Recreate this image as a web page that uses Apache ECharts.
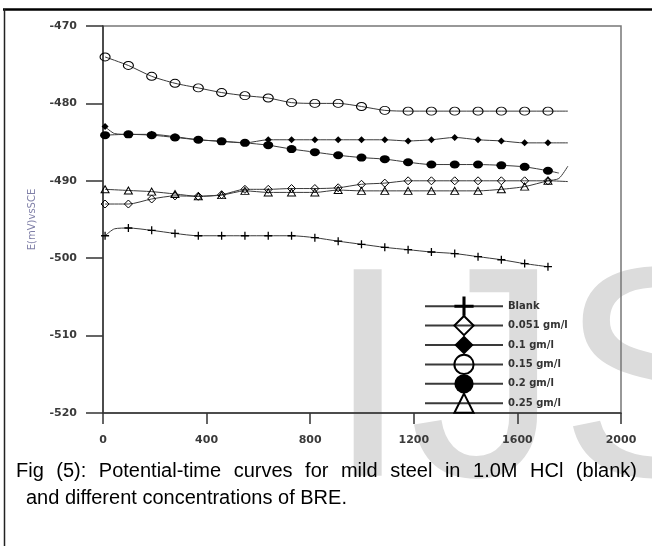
<!DOCTYPE html>
<html><head><meta charset="utf-8">
<script src="https://cdn.jsdelivr.net/npm/echarts@6/dist/echarts.min.js"></script>
<style>html,body{margin:0;padding:0;background:#fff}#c{width:652px;height:546px}</style>
</head><body><div id="c"></div><script>
// ---- data ----
const markTimes = [8,98,188,278,368,458,548,638,728,818,908,998,1088,1178,1268,1358,1448,1538,1628,1718];
const seriesNames = ['Blank','0.051 gm/l','0.1 gm/l','0.15 gm/l','0.2 gm/l','0.25 gm/l'];
const blankValues = [-497.1,-496.1,-496.4,-496.8,-497.1,-497.1,-497.1,-497.1,-497.1,-497.35,-497.8,-498.2,-498.6,-498.9,-499.2,-499.4,-499.8,-500.2,-500.7,-501.1];
const c0051Values = [-493.0,-493.0,-492.35,-491.95,-492.0,-491.8,-491.1,-491.1,-491.0,-491.0,-490.9,-490.45,-490.3,-490.0,-490.0,-490.0,-490.0,-490.0,-490.0,-490.0];
const c01Values   = [-483.0,-484.0,-484.0,-484.3,-484.7,-484.9,-485.1,-484.7,-484.7,-484.7,-484.7,-484.7,-484.7,-484.85,-484.7,-484.4,-484.7,-484.85,-485.1,-485.1];
const c015Values  = [-474.0,-475.1,-476.5,-477.4,-478.0,-478.6,-479.0,-479.3,-479.9,-480.0,-480.0,-480.4,-480.9,-481.0,-481.0,-481.0,-481.0,-481.0,-481.0,-481.0];
const c02Values   = [-484.1,-484.0,-484.1,-484.4,-484.7,-484.9,-485.1,-485.4,-485.9,-486.3,-486.7,-487.0,-487.2,-487.6,-487.9,-487.9,-487.9,-488.0,-488.2,-488.7];
const c025Values  = [-491.1,-491.25,-491.4,-491.7,-492.0,-491.85,-491.3,-491.5,-491.5,-491.5,-491.2,-491.3,-491.3,-491.3,-491.3,-491.3,-491.3,-491.1,-490.75,-490.0];
// points on the curves that carry no marker
const blankExtra = [[45,-496.2]];
const c0051Extra = [[1795,-490.1]];
const c01Extra   = [[45,-483.9],[1795,-485.1]];
const c015Extra  = [[1795,-481.0]];
const c02Extra   = [[1760,-489.0]];
const c025Extra  = [[1760,-489.7],[1795,-488.1]];
const xTicks = {min:0, max:2000, interval:400};
const yTicks = {min:-520, max:-470, interval:10};
const yAxisName = 'E(mV)vsSCE';
const captionLine1 = 'Fig (5): Potential-time curves for mild steel in 1.0M HCl (blank)';
const captionLine2 = 'and different concentrations of BRE.';
const watermark = 'IJSER';

// ---- build ----
function buildData(values, extra){
  const pts = values.map((v,i)=>({value:[markTimes[i], v]}));
  extra.forEach(p=>pts.push({value:[p[0],p[1]], symbol:'none'}));
  pts.sort((a,b)=>a.value[0]-b.value[0]);
  return pts;
}
const plusPath = 'path://M0,4.2H10V5.8H0Z M4.2,0H5.8V10H4.2Z';
const lineColor = '#3a3a3a';
const styles = [
  {symbol: plusPath, symbolSize: 8, itemStyle:{color:'#000'}},
  {symbol: 'diamond', symbolSize: [8,8], itemStyle:{color:'rgba(255,255,255,0)', borderColor:'#000', borderWidth:1}},
  {symbol: 'diamond', symbolSize: [7,7], itemStyle:{color:'#000'}},
  {symbol: 'circle', symbolSize: [10,8], itemStyle:{color:'rgba(255,255,255,0)', borderColor:'#000', borderWidth:1}},
  {symbol: 'circle', symbolSize: [10,8], itemStyle:{color:'#000'}},
  {symbol: 'triangle', symbolSize: [8,7], itemStyle:{color:'rgba(255,255,255,0)', borderColor:'#000', borderWidth:1}}
];
const allValues = [blankValues,c0051Values,c01Values,c015Values,c02Values,c025Values];
const allExtra = [blankExtra,c0051Extra,c01Extra,c015Extra,c02Extra,c025Extra];
const series = seriesNames.map((n,i)=>Object.assign({
  name:n, type:'line', data: buildData(allValues[i], allExtra[i]),
  smooth:0.25, showAllSymbol:true, z: 3,
  lineStyle:{color:lineColor, width:1},
  emphasis:{disabled:true}
}, styles[i]));

// caption, justified on line 1 (word widths measured with DOM layout)
const capFamily = '"Liberation Sans", Arial, sans-serif';
const capSize = 20;
const capFont = capSize + 'px ' + capFamily;
const probe = document.createElement('span');
probe.style.cssText = 'position:absolute;left:-9999px;top:0;white-space:pre;font-size:' + capSize + 'px;font-family:' + capFamily;
document.body.appendChild(probe);
function textWidth(t){ probe.textContent = t; return probe.getBoundingClientRect().width; }
const words = captionLine1.split(' ');
const widths = words.map(textWidth);
const totalW = widths.reduce((a,b)=>a+b,0);
const capLeft = 16, capRight = 637, cap2Left = 26;
const gap = (capRight - capLeft - totalW)/(words.length-1);
const graphics = [
  {type:'text', x:326, y:243, z:-10, silent:true, style:{text:watermark, font:'300px "Liberation Sans", Arial, sans-serif', fill:'#dcdcdc', verticalAlign:'top'}},
  {type:'line', shape:{x1:3, y1:9.5, x2:652, y2:9.5}, style:{stroke:'#000', lineWidth:2.5}},
  {type:'line', shape:{x1:4.5, y1:9, x2:4.5, y2:546}, style:{stroke:'#222', lineWidth:1.5}}
];
let cx = capLeft;
words.forEach((w,i)=>{
  graphics.push({type:'text', x:cx, y:471, style:{text:w, font:capFont, fill:'#000', verticalAlign:'middle'}});
  cx += widths[i] + gap;
});
graphics.push({type:'text', x:cap2Left, y:498, style:{text:captionLine2, font:capFont, fill:'#000', verticalAlign:'middle'}});

const axisLabelStyle = {fontFamily:'DejaVu Sans', fontWeight:'bold', fontSize:11, color:'#3a3a3a', formatter:v=>String(v)};
const chart = echarts.init(document.getElementById('c'), null, {renderer:'canvas'});
chart.setOption({
  animation:false,
  backgroundColor:'#fff',
  grid:{left:103, top:26, right:31, bottom:133, show:true, borderColor:'#777', borderWidth:1.5, backgroundColor:'transparent'},
  xAxis:{type:'value', min:xTicks.min, max:xTicks.max, interval:xTicks.interval,
    axisLine:{show:true, lineStyle:{color:'#333', width:1.5}},
    axisTick:{show:true, inside:false, length:11, lineStyle:{color:'#333', width:1.5}},
    axisLabel:Object.assign({margin:22}, axisLabelStyle),
    splitLine:{show:false}},
  yAxis:{type:'value', min:yTicks.min, max:yTicks.max, interval:yTicks.interval,
    name:yAxisName, nameLocation:'middle', nameGap:66, nameRotate:90,
    nameTextStyle:{fontFamily:'DejaVu Sans', fontSize:10, color:'#8080a8'},
    axisLine:{show:true, lineStyle:{color:'#333', width:1.5}},
    axisTick:{show:true, inside:false, length:17, lineStyle:{color:'#333', width:1.5}},
    axisLabel:Object.assign({margin:26}, axisLabelStyle),
    splitLine:{show:false}},
  legend:{orient:'vertical', left:424, top:296.6, padding:0, itemGap:-0.8, itemWidth:78, itemHeight:24,
    data:seriesNames, selectedMode:false,
    textStyle:{fontFamily:'DejaVu Sans', fontWeight:'bold', fontSize:10, color:'#333'}},
  series: series,
  graphic: graphics
});
</script></body></html>
